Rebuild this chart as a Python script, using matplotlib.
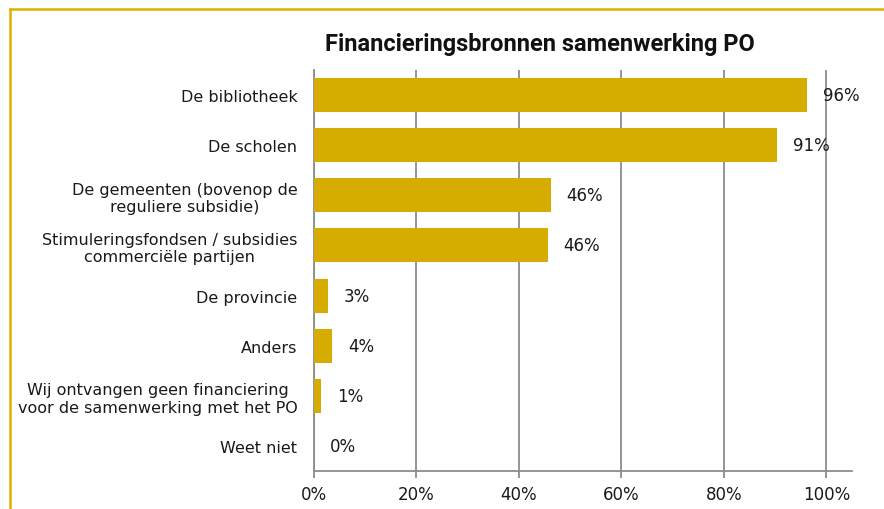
import matplotlib.pyplot as plt
from matplotlib.lines import Line2D

# data
categories = [
    "De bibliotheek",
    "De scholen",
    "De gemeenten (bovenop de\nreguliere subsidie)",
    "Stimuleringsfondsen / subsidies\ncommerciële partijen",
    "De provincie",
    "Anders",
    "Wij ontvangen geen financiering\nvoor de samenwerking met het PO",
    "Weet niet",
]
values = [96.3, 90.4, 46.2, 45.6, 2.7, 3.5, 1.4, 0.0]
value_labels = ["96%", "91%", "46%", "46%", "3%", "4%", "1%", "0%"]
xticks = [0, 20, 40, 60, 80, 100]
xtick_labels = ["0%", "20%", "40%", "60%", "80%", "100%"]

bar_color = "#D6AC00"
grid_color = "#8C8C8C"
text_color = "#1A1A1A"

W, H = 884, 510
fig = plt.figure(figsize=(W / 100, H / 100), dpi=100)
ax = fig.add_axes([314 / W, 1 - 472 / H, (852 - 314) / W, (472 - 71) / H])

ypos = list(range(len(categories)))
ax.barh(ypos, values, height=0.68, color=bar_color, zorder=3)
ax.set_ylim(len(categories) - 0.5, -0.5)
ax.set_xlim(0, 105)

ax.set_yticks(ypos)
ax.set_yticklabels(categories, fontsize=11.5, color=text_color,
                   multialignment="center")
ax.tick_params(axis="y", length=0, pad=12)

ax.set_xticks(xticks)
ax.set_xticklabels(xtick_labels, fontsize=12, color=text_color)
ax.tick_params(axis="x", length=5, width=1.3, color=grid_color, pad=5)

ax.grid(axis="x", color=grid_color, linewidth=1.3, zorder=1)
for side in ["top", "right"]:
    ax.spines[side].set_visible(False)
for side in ["left", "bottom"]:
    ax.spines[side].set_color(grid_color)
    ax.spines[side].set_linewidth(1.3)

for y, v, lab in zip(ypos, values, value_labels):
    ax.annotate(lab, (v, y), xytext=(11.5, 0), textcoords="offset points",
                va="center", ha="left", fontsize=12, color=text_color,
                zorder=4)

fig.text(540 / W, 1 - 45 / H, "Financieringsbronnen samenwerking PO",
         ha="center", va="center", fontsize=17, fontweight="bold",
         family="Roboto", color="#111111")

# yellow frame on the top and left edge
fig.add_artist(Line2D([9.5 / W, 1], [1 - 9.5 / H, 1 - 9.5 / H],
                      color="#E0B000", linewidth=1.8))
fig.add_artist(Line2D([9.5 / W, 9.5 / W], [0, 1 - 9.5 / H],
                      color="#E0B000", linewidth=1.8))

fig.savefig("out.png", dpi=100)
